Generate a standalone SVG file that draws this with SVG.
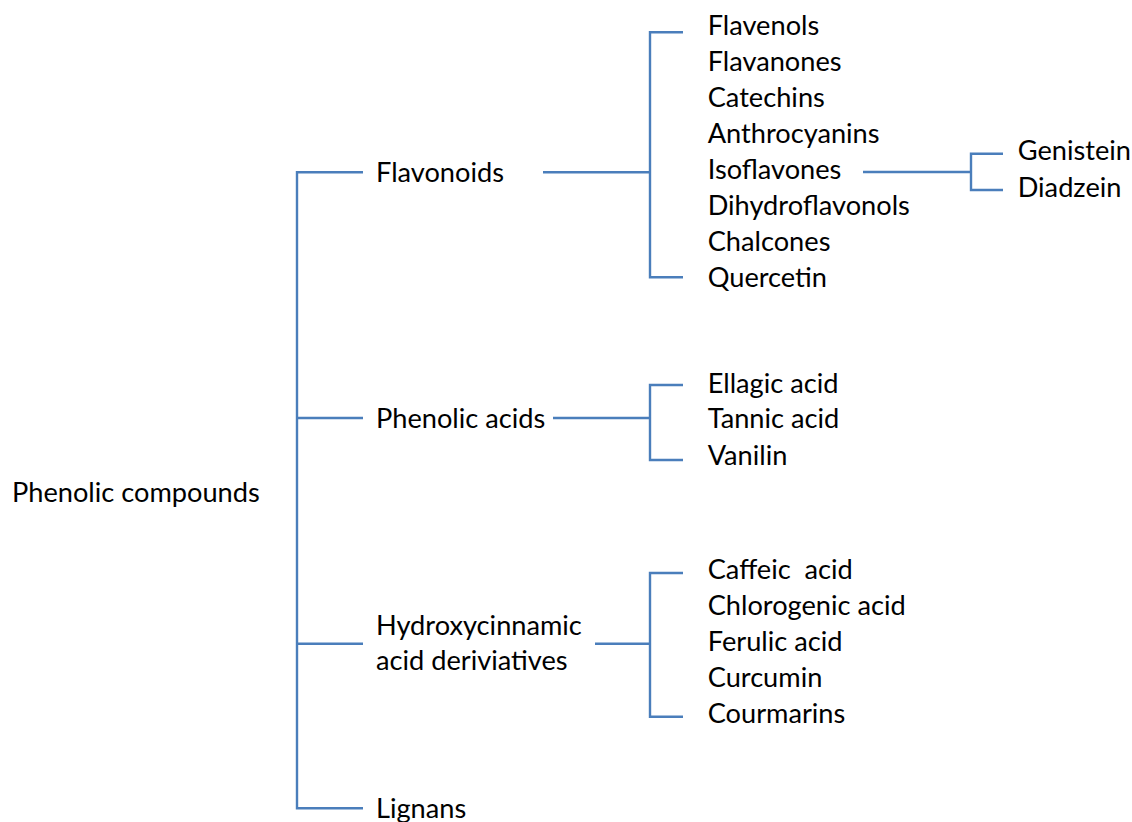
<svg xmlns="http://www.w3.org/2000/svg" width="1132" height="822" viewBox="0 0 1132 822">
<style>
text{font-family:Lato,"Open Sans","Liberation Sans",sans-serif;font-size:27.2px;fill:#000}
.c{fill:none;stroke:#4a7ebb;stroke-width:2.4}
</style>
<rect width="1132" height="822" fill="#fff"/>
<g id="connectors">
<path class="c" d="M363,172.3H297V808.3H363M297,418H363M297,643.7H363"/>
<path class="c" d="M543,172.3H650M683,32.3H650V277.3H683"/>
<path class="c" d="M863,172H971M1003,153.7H971V190H1003"/>
<path class="c" d="M553,418H650M683,385H650V460H683"/>
<path class="c" d="M595,643.7H650M683,573H650V716.7H683"/>
</g>
<g id="root"><text x="12" y="501.7">Phenolic compounds</text></g>
<g id="flavonoids"><text x="376" y="181.7">Flavonoids</text></g>
<g id="phenolic-acids"><text x="376" y="428">Phenolic acids</text></g>
<g id="hydroxycinnamic"><text x="376" y="635">Hydroxycinnamic</text><text x="376" y="670">acid deriviatives</text></g>
<g id="lignans"><text x="376" y="817.5">Lignans</text></g>
<g id="flavonoid-list">
<text x="707.7" y="34.5">Flavenols</text>
<text x="707.7" y="70.6">Flavanones</text>
<text x="707.7" y="106.7">Catechins</text>
<text x="707.7" y="142.8">Anthrocyanins</text>
<text x="707.7" y="215">Dihydroflavonols</text>
<text x="707.7" y="251.1">Chalcones</text>
<text x="707.7" y="287.2">Quercetin</text>
</g>
<g id="isoflavones"><text x="707.7" y="178.9">Isoflavones</text></g>
<g id="isoflavone-list">
<text x="1017.7" y="160">Genistein</text>
<text x="1017.7" y="196.7">Diadzein</text>
</g>
<g id="phenolic-acid-list">
<text x="707.7" y="393.3">Ellagic acid</text>
<text x="707.7" y="428.3">Tannic acid</text>
<text x="707.7" y="465">Vanilin</text>
</g>
<g id="hydroxycinnamic-list">
<text x="707.7" y="579" xml:space="preserve">Caffeic  acid</text>
<text x="707.7" y="615">Chlorogenic acid</text>
<text x="707.7" y="650.7">Ferulic acid</text>
<text x="707.7" y="687.3">Curcumin</text>
<text x="707.7" y="723">Courmarins</text>
</g>
</svg>
